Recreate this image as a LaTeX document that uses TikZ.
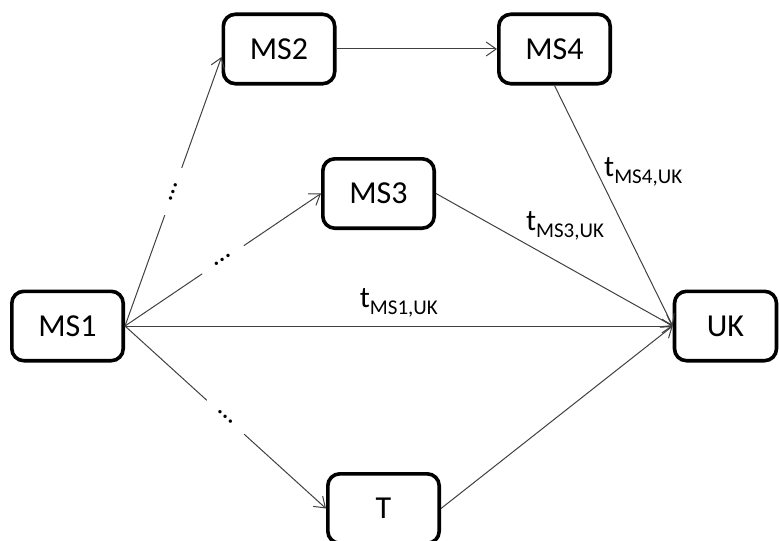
\documentclass[tikz,border=0pt]{standalone}
\usepackage{fontspec}
\setmainfont{Carlito}
\usepackage{tikz}
\usetikzlibrary{arrows.meta, calc, positioning}
\tikzstyle{country} = [rectangle, rounded corners=6pt, line width=1.8pt, draw=black, fill=white, minimum width=55.7pt, minimum height=34.7pt, font=\fontsize{16}{19}\selectfont]
\tikzstyle{arrow} = [draw=black!75, line width=0.5pt, -{Straight Barb[length=5pt,width=7pt]}]
\tikzstyle{gap} = [fill=white, sloped, inner sep=0pt, minimum width=25pt, font=\fontsize{14}{16}\selectfont]
\newcommand{\tlab}[1]{\fontsize{15}{18}\selectfont t\raisebox{-3.5pt}{\fontsize{10.5}{12}\selectfont #1}}

\begin{document}
\begin{tikzpicture}[x=0.5pt, y=-0.5pt]
	\useasboundingbox (0,0) rectangle (779,540);
	\node (MS1) [country] at (67.5,326) {MS1};
	\node (MS2) [country] at (279,49) {MS2};
	\node (MS3) [country] at (378.5,193.5) {MS3};
	\node (MS4) [country] at (554.5,49) {MS4};
	\node (T) [country] at (383.5,508.5) {T};
	\node (UK) [country, minimum width=51pt] at (725.5,326) {UK};
	
	\draw [arrow] (MS1.east) -- node[gap] {…} ([yshift=-4pt]MS2.west);
	\draw [arrow] (MS1.east) -- node[gap] {…} (MS3.west);
	\draw [arrow] (MS1.east) -- node[above=1pt] {\tlab{MS1,UK}} (UK.west);
	\draw [arrow] (MS1.east) -- node[gap] {…} (T.west);
	\draw [arrow] (MS2.east) -- (MS4.west);
	\draw [arrow] (MS3.east) -- node[pos=0.37, anchor=south west, inner sep=1pt] {\tlab{MS3,UK}} (UK.west);
	\draw [arrow] (MS4.south) -- node[pos=0.36, anchor=west] {\tlab{MS4,UK}} (UK.west);
	\draw [arrow] (T.east) -- (UK.west);
%	\draw [arrow] (MS2) -- (MS3);
\end{tikzpicture}
\end{document}
